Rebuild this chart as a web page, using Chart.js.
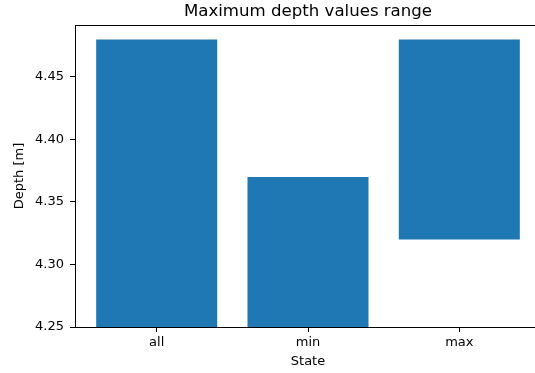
<!DOCTYPE html>
<html>
<head>
<meta charset="utf-8">
<script src="https://cdn.jsdelivr.net/npm/chart.js@4/dist/chart.umd.min.js"></script>
<style>
    html, body { margin: 0; padding: 0; background: #fff; overflow: hidden; }
    #chart { display: block; }
</style>
</head>
<body>
<canvas id="chart" width="545" height="373"></canvas>
<script>
// Chart data
const states = ['all', 'min', 'max'];
const depthLow = [4.25, 4.25, 4.32];
const depthHigh = [4.48, 4.37, 4.48];
const depthTicks = [4.25, 4.30, 4.35, 4.40, 4.45];

const barColor = '#1f77b4';
const font = "'DejaVu Sans', sans-serif";

// Draw top/right spines like matplotlib
const frameLines = {
    id: 'frameLines',
    afterDatasetsDraw(chart) {
        const { ctx, chartArea } = chart;
        ctx.save();
        ctx.strokeStyle = '#000';
        ctx.lineWidth = 1;
        ctx.beginPath();
        const top = Math.round(chartArea.top) + 0.5;
        const right = Math.round(chartArea.right) + 0.5;
        ctx.moveTo(chartArea.left, top);
        ctx.lineTo(right, top);
        ctx.lineTo(right, chartArea.bottom);
        ctx.stroke();
        ctx.restore();
    }
};

const ctx = document.getElementById('chart');

new Chart(ctx, {
    type: 'bar',
    data: {
        datasets: [{
            data: states.map((s, i) => ({ x: i, y: [depthLow[i], depthHigh[i]] })),
            backgroundColor: barColor,
            borderWidth: 0,
            categoryPercentage: 1,
            barPercentage: 0.8,
        }],
    },
    options: {
        responsive: false,
        animation: false,
        layout: {
            padding: { left: 0, right: 4, top: 0, bottom: 0 },
        },
        plugins: {
            legend: { display: false },
            tooltip: { enabled: false },
            title: {
                display: true,
                text: 'Maximum depth values range',
                fullSize: false,
                color: '#000',
                font: { family: font, size: 16.6, weight: 'normal' },
                padding: { top: 2, bottom: 3.1 },
            },
        },
        scales: {
            x: {
                type: 'linear',
                offset: false,
                min: -0.54,
                max: 2.54,
                afterBuildTicks: (scale) => {
                    scale.ticks = states.map((s, i) => ({ value: i }));
                },
                afterFit: (scale) => { scale.height = 46; },
                ticks: {
                    callback: (value) => states[value],
                    color: '#000',
                    font: { family: font, size: 13 },
                    padding: 3,
                    maxRotation: 0,
                    autoSkip: false,
                },
                grid: {
                    offset: false,
                    drawOnChartArea: false,
                    tickLength: 5,
                    color: '#000',
                },
                border: { color: '#000', width: 1 },
                title: {
                    display: true,
                    text: 'State',
                    color: '#000',
                    font: { family: font, size: 13 },
                    padding: { top: 0, bottom: 4 },
                },
            },
            y: {
                min: 4.25,
                max: 4.4915,
                afterBuildTicks: (scale) => {
                    scale.ticks = depthTicks.map(v => ({ value: v }));
                },
                afterFit: (scale) => { scale.width = 75; },
                ticks: {
                    callback: (value) => value.toFixed(2),
                    color: '#000',
                    font: { family: font, size: 13 },
                    padding: 6,
                },
                grid: {
                    drawOnChartArea: false,
                    tickLength: 5,
                    color: '#000',
                },
                border: { color: '#000', width: 1 },
                title: {
                    display: true,
                    text: 'Depth [m]',
                    color: '#000',
                    font: { family: font, size: 13 },
                    padding: { top: 12, bottom: 0 },
                },
            },
        },
    },
    plugins: [frameLines],
});
</script>
</body>
</html>
